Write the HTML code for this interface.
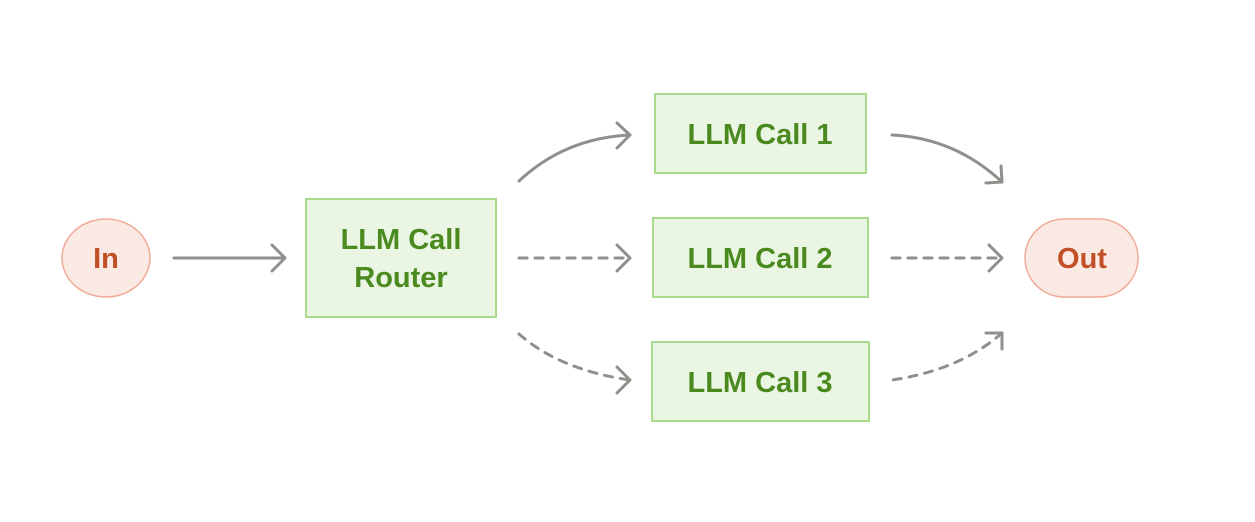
<!DOCTYPE html>
<html><head><meta charset="utf-8"><style>
html,body{margin:0;padding:0;background:#fff;}
svg{display:block}
text{font-family:"Liberation Sans",sans-serif;font-weight:bold;font-size:29px;text-anchor:middle;}
</style></head><body>
<svg width="1255" height="522" viewBox="0 0 1255 522">
<g fill="#ebf5e4" stroke="#a8dc8c" stroke-width="2">
<rect x="306" y="199" width="190" height="118"/>
<rect x="655" y="94" width="211" height="79"/>
<rect x="653" y="218" width="215" height="79"/>
<rect x="652" y="342" width="217" height="79"/>
</g>
<ellipse cx="106" cy="258" rx="44" ry="39" fill="#fbeae4" stroke="#f0aa96" stroke-width="1.5"/>
<rect x="1025" y="219" width="113" height="78" rx="39" fill="#fbeae4" stroke="#f0aa96" stroke-width="1.5"/>
<g fill="#4a8a1e">
<text x="401" y="249">LLM Call</text>
<text x="401" y="287">Router</text>
<text x="760" y="144">LLM Call 1</text>
<text x="760" y="268">LLM Call 2</text>
<text x="760" y="392">LLM Call 3</text>
</g>
<g fill="#c24f26">
<text x="106" y="268">In</text>
<text x="1082" y="268">Out</text>
</g>
<g fill="none" stroke="#8f8f8c" stroke-width="3" stroke-linecap="round" stroke-linejoin="round">
<path d="M174 258H285M272 245L285 258L272 271"/>
<path d="M519 181Q565 138 630 135M617 123L630 135L617 148"/>
<path d="M892 135Q955 138 1002 182M986 183L1002 182L1001 166"/>
<path d="M1002 333Q960 370 892 380" stroke-dasharray="8 8"/>
<path d="M986 333L1002 333L1002 349"/>
<path d="M519 334Q560 370 630 380" stroke-dasharray="8 8"/>
<path d="M617 367L630 380L617 393"/>
<path d="M519 258H630" stroke-dasharray="8 8"/>
<path d="M617 245L630 258L617 271"/>
<path d="M892 258H1002" stroke-dasharray="8 8"/>
<path d="M989 245L1002 258L989 271"/>
</g>
</svg>
</body></html>
